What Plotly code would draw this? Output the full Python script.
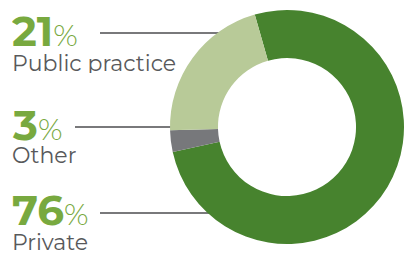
import plotly.graph_objects as go

categories = ["Private", "Other", "Public practice"]
values = [76, 3, 21]
colors = ["#47832e", "#77787b", "#b8ca98"]

# label layout (px from top)
label_y_num = [210, 125, 31]
label_y_txt = [242, 155, 63]
line_y = [213, 127, 33]
line_x0 = [100, 75, 100]
line_x1 = [240, 200, 240]

W, H = 404, 253

fig = go.Figure()
fig.add_trace(go.Pie(
    labels=categories, values=values, sort=False, direction="clockwise",
    rotation=-16, hole=0.59, marker=dict(colors=colors, line=dict(width=0)),
    textinfo="none", hoverinfo="label+percent", showlegend=False,
    domain=dict(x=[170 / W, 1.0], y=[9 / H, 243 / H]),
))

for i, cat in enumerate(categories):
    fig.add_shape(type="line", xref="paper", yref="paper", layer="below",
                  x0=line_x0[i] / W, x1=line_x1[i] / W,
                  y0=1 - line_y[i] / H, y1=1 - line_y[i] / H,
                  line=dict(color="#4d4d4f", width=1.5))
    fig.add_annotation(
        x=10 / W, y=1 - label_y_num[i] / H, xref="paper", yref="paper",
        xanchor="left", yanchor="middle", showarrow=False, height=34,
        text=f"<b>{values[i]}</b><span style='font-size:30px;font-weight:300'>%</span>",
        font=dict(family="Montserrat, Open Sans", size=42, color="#78a93f"),
    )
    fig.add_annotation(
        x=10 / W, y=1 - label_y_txt[i] / H, xref="paper", yref="paper",
        xanchor="left", yanchor="middle", showarrow=False, height=20,
        text=cat,
        font=dict(family="Montserrat, Open Sans", size=22, color="#58595b"),
    )

fig.update_layout(width=W, height=H, margin=dict(l=0, r=0, t=0, b=0),
                  paper_bgcolor="white", plot_bgcolor="white")
fig.write_html("out.html", config={"displayModeBar": False},
               post_script="document.body.style.margin='0';")
